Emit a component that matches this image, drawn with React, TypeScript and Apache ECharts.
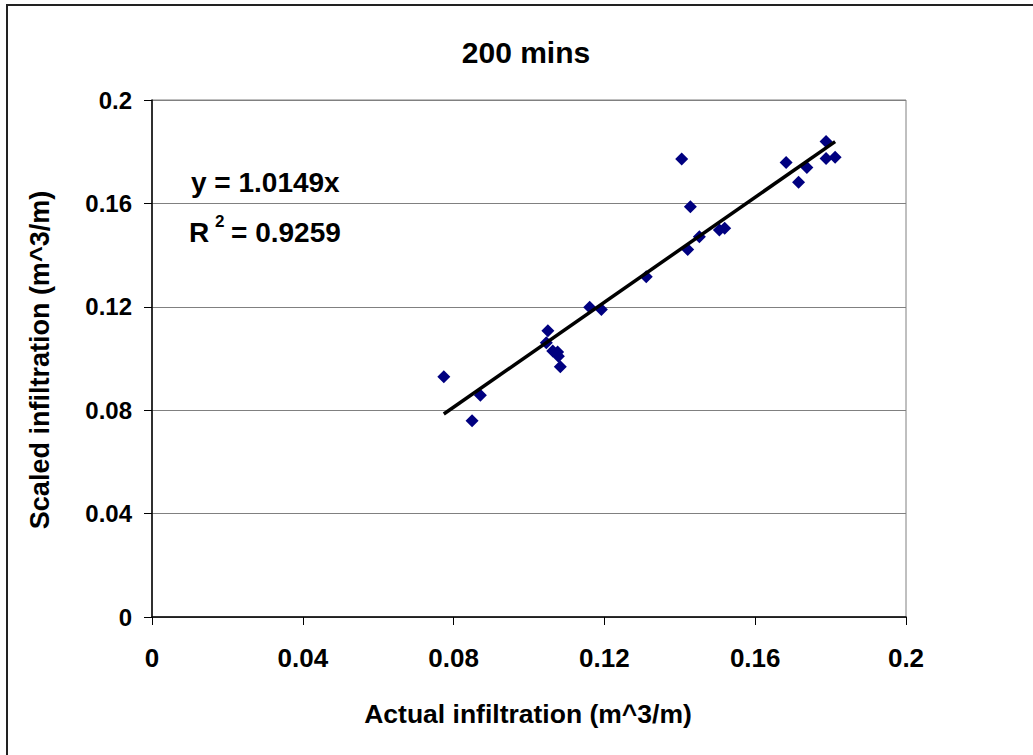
import React, { useEffect, useRef } from "react";
import * as echarts from "echarts";

const titleText = "200 mins";
const xName = "Actual infiltration (m^3/m)";
const yName = "Scaled infiltration (m^3/m)";
const equationText = "y = 1.0149x";
const r2Value = "= 0.9259";
const trendSlope = 1.0149;

const axisMin = 0;
const axisMax = 0.2;
const axisStep = 0.04;

const actualX = [
  0.0774, 0.0849, 0.0871, 0.1046, 0.105, 0.1063, 0.1076, 0.1078, 0.1083,
  0.1161, 0.1192, 0.1311, 0.1405, 0.1421, 0.1428, 0.1452, 0.1505, 0.1519,
  0.1682, 0.1715, 0.1737, 0.1788, 0.1788, 0.1812,
];
const scaledY = [
  0.0929, 0.0759, 0.0858, 0.1061, 0.1107, 0.1029, 0.1025, 0.1009, 0.0968,
  0.1198, 0.119, 0.1316, 0.1772, 0.1422, 0.1587, 0.1471, 0.1497, 0.1504,
  0.1758, 0.1682, 0.1739, 0.1839, 0.1774, 0.1779,
];

const FONT = "'Liberation Sans', Arial, sans-serif";

export default function App() {
  const ref = useRef<HTMLDivElement>(null);

  useEffect(() => {
    document.body.style.margin = "0";
    if (!ref.current) return;
    const chart = echarts.init(ref.current, null, { renderer: "svg" });

    const points = actualX.map((x, i) => [x, scaledY[i]]);
    const xLo = Math.min(...actualX);
    const xHi = Math.max(...actualX);
    const trend = [
      [xLo, xLo * trendSlope],
      [xHi, xHi * trendSlope],
    ];

    chart.setOption({
      animation: false,
      backgroundColor: "#ffffff",
      grid: {
        left: 152,
        top: 100,
        width: 754,
        height: 517,
        show: true,
        borderColor: "#808080",
        borderWidth: 1,
        backgroundColor: "transparent",
      },
      xAxis: {
        type: "value",
        min: axisMin,
        max: axisMax,
        interval: axisStep,
        axisLine: { show: true, onZero: false, lineStyle: { color: "#000", width: 1.5 } },
        axisTick: { show: true, inside: false, length: 8, lineStyle: { color: "#000", width: 1 } },
        splitLine: { show: false },
        axisLabel: {
          margin: 28,
          color: "#000",
          fontSize: 26,
          fontWeight: "bold",
          fontFamily: FONT,
        },
      },
      yAxis: {
        type: "value",
        min: axisMin,
        max: axisMax,
        interval: axisStep,
        axisLine: { show: true, onZero: false, lineStyle: { color: "#000", width: 1.5 } },
        axisTick: { show: true, inside: false, length: 8, lineStyle: { color: "#000", width: 1 } },
        splitLine: { show: true, lineStyle: { color: "#808080", width: 1 } },
        axisLabel: {
          margin: 20,
          color: "#000",
          fontSize: 24,
          fontWeight: "bold",
          fontFamily: FONT,
        },
      },
      series: [
        {
          type: "scatter",
          data: points,
          symbol: "diamond",
          symbolSize: 13,
          itemStyle: { color: "#000080", opacity: 1 },
          z: 2,
        },
        {
          type: "line",
          data: trend,
          symbol: "none",
          lineStyle: { color: "#000", width: 3.5 },
          z: 3,
        },
      ],
      graphic: [
        {
          type: "rect",
          shape: { x: 7, y: 5, width: 1100, height: 800 },
          style: { fill: "none", stroke: "#222", lineWidth: 2 },
          silent: true,
        },
        {
          type: "text",
          x: 526,
          y: 52,
          style: {
            text: titleText,
            fill: "#000",
            font: `bold 30px ${FONT}`,
            align: "center",
            verticalAlign: "middle",
          },
        },
        {
          type: "text",
          x: 528,
          y: 714,
          style: {
            text: xName,
            fill: "#000",
            font: `bold 26.5px ${FONT}`,
            align: "center",
            verticalAlign: "middle",
          },
        },
        {
          type: "text",
          x: 40,
          y: 360,
          rotation: Math.PI / 2,
          style: {
            text: yName,
            fill: "#000",
            font: `bold 27px ${FONT}`,
            align: "center",
            verticalAlign: "middle",
          },
        },
        {
          type: "text",
          x: 191,
          y: 182,
          style: {
            text: equationText,
            fill: "#000",
            font: `bold 28px ${FONT}`,
            align: "left",
            verticalAlign: "middle",
          },
        },
        {
          type: "text",
          x: 189,
          y: 232,
          style: {
            text: "R",
            fill: "#000",
            font: `bold 28px ${FONT}`,
            align: "left",
            verticalAlign: "middle",
          },
        },
        {
          type: "text",
          x: 215,
          y: 221,
          style: {
            text: "2",
            fill: "#000",
            font: `bold 17px ${FONT}`,
            align: "left",
            verticalAlign: "middle",
          },
        },
        {
          type: "text",
          x: 231,
          y: 232,
          style: {
            text: r2Value,
            fill: "#000",
            font: `bold 28px ${FONT}`,
            align: "left",
            verticalAlign: "middle",
          },
        },
      ],
    });

    return () => {
      chart.dispose();
    };
  }, []);

  return <div ref={ref} style={{ width: 1033, height: 755 }} />;
}
